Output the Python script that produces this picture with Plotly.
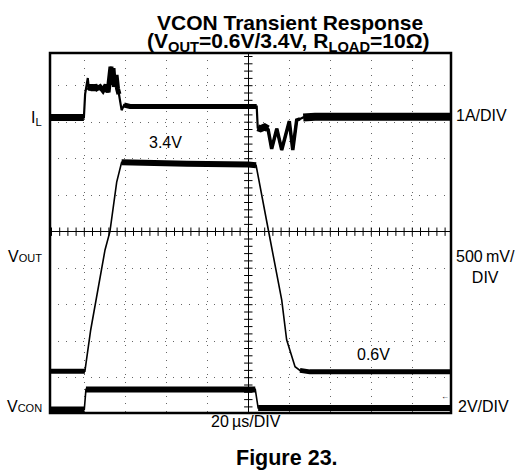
import numpy as np
import plotly.graph_objects as go

# ---------------- data ----------------
# time axis in microseconds, 20 us/div, 0 = screen centre
IL_T = [-97, -80.2, -79.6, -78.3, -77.7, -76.7, -75.7, -74.8, -73.8, -72.3, -70.9,
        -69.4, -68.4, -67.5, -67.0, -66.5, -66.0, -65.3, -64.5, -63.8, -63.1, -61.8,
        -60.6, -57.7, 4.1, 4.6, 6.0, 8.0, 9.6, 11.4, 13.9, 16.3, 20.0, 21.7, 23.6,
        25.2, 26.8, 32.5, 99]
IL_A = [0.06, 0.06, 0.70, 1.14, 0.80, 0.95, 0.80, 0.95, 0.85, 0.90, 0.80,
        0.95, 0.75, 1.20, 1.45, 0.95, 1.41, 0.90, 1.22, 0.85, 0.70, 0.26,
        0.40, 0.36, 0.36, -0.22, -0.25, -0.20, -0.25, -0.80, -0.25, -0.83, -0.04,
        -0.83, -0.01, 0.02, 0.06, 0.08, 0.08]

VOUT_T = [-97, -80.0, -79.7, -76.9, -69.9, -67.5, -64.2, -61.8, -60.0, -30.0, 0.0,
          3.8, 9.8, 16.3, 18.7, 21.2, 22.8, 25.2, 30.0, 99]
VOUT_V = [0.61, 0.61, 0.61, 1.17, 2.27, 2.52, 3.20, 3.47, 3.47, 3.45, 3.44,
          3.43, 2.54, 1.585, 1.04, 0.83, 0.67, 0.62, 0.60, 0.60]

VCON_T = [-97, -80.0, -79.2, 3.4, 4.8, 99]
VCON_V = [0.0, 0.0, 1.1, 1.1, 0.08, 0.08]

# channel settings: units per division and ground position (divisions)
IL_PER_DIV, IL_GND = 1.0, 3.07
VOUT_PER_DIV, VOUT_GND = 0.5, -5.04
VCON_PER_DIV, VCON_GND = 2.0, -4.87


def to_div(vals, per_div, gnd):
    return [v / per_div + gnd for v in vals]


IL_D = to_div(IL_A, IL_PER_DIV, IL_GND)
VOUT_D = to_div(VOUT_V, VOUT_PER_DIV, VOUT_GND)
VCON_D = to_div(VCON_V, VCON_PER_DIV, VCON_GND)

fig = go.Figure()


def add(x, y, w):
    fig.add_trace(go.Scatter(x=x, y=y, mode="lines", line=dict(color="black", width=w),
                             hoverinfo="skip", showlegend=False))


# thin full traces
add(IL_T, IL_D, 2.2)
add(VOUT_T, VOUT_D, 1.6)
add(VCON_T, VCON_D, 1.6)
# noisy (thick) sections
for a, b, w in [(0, 2, 7), (4, 21, 5), (22, 25, 5), (25, 29, 7), (28, 36, 3.5), (36, 39, 8)]:
    add(IL_T[a:b], IL_D[a:b], w)
for a, b, w in [(0, 3, 5), (7, 12, 6), (17, 20, 5)]:
    add(VOUT_T[a:b], VOUT_D[a:b], w)
for a, b, w in [(0, 2, 6), (2, 4, 6), (4, 6, 6)]:
    add(VCON_T[a:b], VCON_D[a:b], w)

# graticule minor ticks on the centre cross
tx = np.arange(-96, 100, 4)
fig.add_trace(go.Scatter(x=tx, y=np.zeros_like(tx, dtype=float), mode="markers",
                         marker=dict(symbol="line-ns", size=6, line=dict(color="black", width=1)),
                         hoverinfo="skip", showlegend=False))
ty = np.arange(-4.8, 4.9, 0.2)
fig.add_trace(go.Scatter(x=np.zeros_like(ty), y=ty, mode="markers",
                         marker=dict(symbol="line-ew", size=6, line=dict(color="black", width=1)),
                         hoverinfo="skip", showlegend=False))

L, R, T, B = 50, 69, 53, 62
W, H = 520, 475
PW, PH = W - L - R, H - T - B


def P(px, py):
    return (px - L) / PW, (H - B - py) / PH


FONT = "Liberation Sans, Arial, sans-serif"


def ann(text, px, py, size=16, xa="center", bold=False):
    x, y = P(px, py)
    if bold:
        text = "<b>" + text + "</b>"
    fig.add_annotation(x=x, y=y, xref="paper", yref="paper", text=text, showarrow=False,
                       xanchor=xa, yanchor="middle", font=dict(size=size, color="black", family=FONT))


SM = '<span style="font-size:11px">'
ann("VCON Transient Response", 290, 22, 21, bold=True)
ann("(V<sub>OUT</sub>=0.6V/3.4V, R<sub>LOAD</sub>=10Ω)", 288, 42, 21, bold=True)
ann("I<sub>L</sub>", 44, 118, 16, xa="right")
ann("V" + SM + "OUT</span>", 44, 256, 16, xa="right")
ann("V" + SM + "CON</span>", 44, 406, 16, xa="right")
ann("1A/DIV", 454, 115, 16, xa="left")
ann("500\u2009mV/<br>DIV", 454, 267, 16, xa="left")
ann("2V/DIV", 456, 406, 16, xa="left")
ann("3.4V", 165, 142, 16)
ann("0.6V", 373, 354, 16)
ann("20\u2009µs/DIV", 246, 421, 16)
ann("Figure 23.", 287, 458, 21.5, bold=True)
ann("←", 445, 396, 8)

fig.add_shape(type="rect", xref="paper", yref="paper", x0=0, x1=1, y0=0, y1=1,
              line=dict(color="black", width=2.5), layer="above")

fig.update_xaxes(range=[(L - 248.3) / 41 * 20, (W - R - 248.3) / 41 * 20], dtick=20, tick0=0,
                 showgrid=True, gridcolor="#666", gridwidth=1, griddash="1px,6.3px",
                 zeroline=True, zerolinecolor="black", zerolinewidth=1,
                 showticklabels=False, ticks="", showline=False, fixedrange=True)
fig.update_yaxes(range=[(231.7 - (H - B)) / 36.5, (231.7 - T) / 36.5], dtick=1, tick0=0,
                 showgrid=True, gridcolor="#666", gridwidth=1, griddash="1px,7.2px",
                 zeroline=True, zerolinecolor="black", zerolinewidth=1,
                 showticklabels=False, ticks="", showline=False, fixedrange=True)

fig.update_layout(width=W, height=H, margin=dict(l=L, r=R, t=T, b=B, pad=0),
                  plot_bgcolor="white", paper_bgcolor="white",
                  font=dict(family=FONT, color="black"))

fig.write_html("out.html", config={"displayModeBar": False},
               post_script="document.body.style.margin='0';document.body.style.padding='0';")
